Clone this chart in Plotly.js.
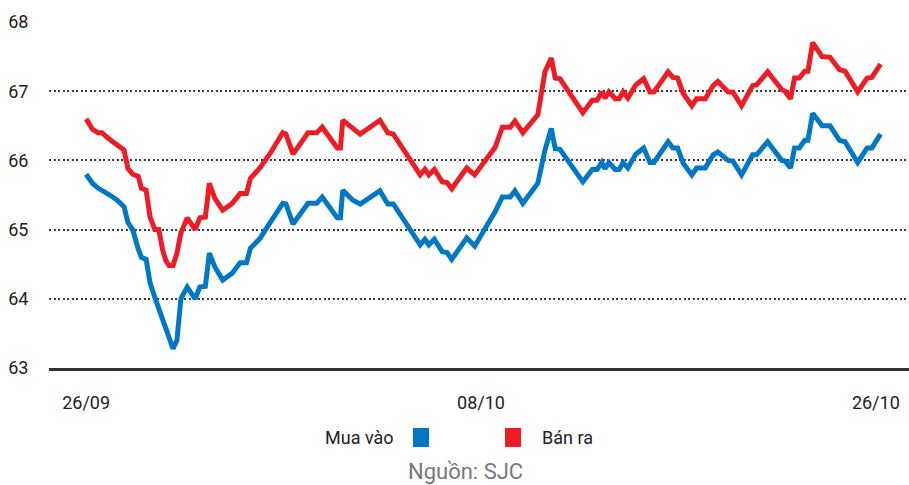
<!DOCTYPE html>
<html>
<head>
<meta charset="utf-8">
<script src="https://cdn.plot.ly/plotly-3.0.1.min.js"></script>
<style>
  html, body { margin: 0; padding: 0; background: #fff; }
  #chart { width: 909px; height: 485px; }
</style>
</head>
<body>
<div id="chart"></div>
<script>
// Position of each reading along the time axis (26/09 = 0, 08/10 = 50, 26/10 = 100)
const xPos = [0, 0.8, 1.5, 2.0, 3.0, 3.9, 4.8, 5.3, 5.9, 6.6, 7.0, 7.6, 8.1, 8.7, 9.2, 9.7, 10.1, 10.5, 11.0, 11.5,
  12.0, 12.8, 13.8, 14.4, 15.1, 15.6, 16.3, 17.3, 18.5, 19.5, 20.3, 20.8, 22.0, 23.3, 24.9, 25.3, 26.2, 28.1, 29.2, 29.9,
  31.8, 32.2, 32.5, 33.7, 34.7, 37.2, 38.2, 38.9, 42.3, 42.9, 43.4, 44.1, 45.1, 45.7, 46.3, 48.2, 49.2, 51.8, 52.7, 53.7,
  54.3, 55.3, 57.2, 58.1, 58.9, 59.4, 60.0, 62.9, 64.1, 64.7, 65.3, 65.7, 66.2, 67.0, 67.5, 68.0, 68.6, 69.6, 70.6, 71.4,
  71.9, 73.7, 74.3, 74.9, 75.6, 76.7, 77.3, 78.4, 79.4, 80.0, 81.3, 81.9, 83.0, 84.4, 84.9, 86.3, 88.1, 88.5, 89.2, 89.7,
  90.3, 91.0, 91.4, 92.0, 93.2, 94.2, 95.4, 96.1, 97.7, 98.9, 99.5, 100.6];

// Giá mua vào (triệu đồng/lượng)
const muaVao = [65.80, 65.67, 65.60, 65.57, 65.50, 65.43, 65.33, 65.10, 65.00, 64.72, 64.60, 64.57, 64.23, 64.02, 63.86, 63.72, 63.62, 63.45, 63.28, 63.40,
  64.00, 64.17, 64.00, 64.17, 64.18, 64.66, 64.46, 64.27, 64.37, 64.52, 64.52, 64.73, 64.87, 65.10, 65.38, 65.37, 65.08, 65.38, 65.38, 65.47,
  65.17, 65.17, 65.57, 65.43, 65.37, 65.56, 65.37, 65.37, 64.78, 64.86, 64.78, 64.86, 64.68, 64.67, 64.57, 64.88, 64.76, 65.26, 65.47, 65.47,
  65.56, 65.38, 65.67, 66.15, 66.46, 66.17, 66.16, 65.69, 65.87, 65.87, 65.97, 65.88, 65.97, 65.87, 65.87, 65.97, 65.89, 66.09, 66.18, 65.97,
  65.97, 66.27, 66.18, 66.18, 65.96, 65.79, 65.89, 65.89, 66.08, 66.12, 66.00, 65.99, 65.79, 66.08, 66.08, 66.27, 66.00, 65.99, 65.89, 66.18,
  66.18, 66.29, 66.29, 66.68, 66.50, 66.50, 66.29, 66.27, 65.97, 66.18, 66.18, 66.38];

// Giá bán ra (triệu đồng/lượng)
const banRa = [66.60, 66.45, 66.40, 66.40, 66.30, 66.22, 66.15, 65.88, 65.80, 65.77, 65.60, 65.57, 65.18, 65.00, 65.00, 64.70, 64.55, 64.48, 64.48, 64.66,
  64.95, 65.17, 65.00, 65.17, 65.18, 65.67, 65.45, 65.28, 65.38, 65.52, 65.52, 65.74, 65.89, 66.10, 66.40, 66.38, 66.09, 66.40, 66.40, 66.48,
  66.18, 66.18, 66.58, 66.47, 66.38, 66.58, 66.40, 66.38, 65.79, 65.87, 65.79, 65.87, 65.69, 65.68, 65.59, 65.89, 65.79, 66.19, 66.48, 66.48,
  66.57, 66.40, 66.66, 67.28, 67.48, 67.19, 67.18, 66.69, 66.87, 66.87, 66.99, 66.90, 66.99, 66.89, 66.89, 66.99, 66.90, 67.09, 67.18, 66.99,
  66.99, 67.28, 67.20, 67.19, 66.97, 66.79, 66.89, 66.89, 67.08, 67.14, 66.99, 66.99, 66.79, 67.08, 67.09, 67.28, 67.02, 67.00, 66.89, 67.19,
  67.19, 67.29, 67.29, 67.70, 67.50, 67.49, 67.31, 67.29, 66.99, 67.19, 67.20, 67.39];

const xTickVals = [0, 50, 100];
const xTickText = ['26/09', '08/10', '26/10'];
const yTickVals = [63, 64, 65, 66, 67, 68];

const seriesNames = ['Mua vào', 'Bán ra'];
const sourceText = 'Nguồn: SJC';

const BLUE = '#0078C6';
const RED = '#EE1D25';
const FONT = 'Roboto, "Liberation Sans", sans-serif';

const traces = [
  {
    x: xPos, y: muaVao, name: seriesNames[0], type: 'scatter', mode: 'lines',
    line: { color: BLUE, width: 5, shape: 'linear' }, showlegend: false, hoverinfo: 'skip'
  },
  {
    x: xPos, y: banRa, name: seriesNames[1], type: 'scatter', mode: 'lines',
    line: { color: RED, width: 5, shape: 'linear' }, showlegend: false, hoverinfo: 'skip'
  }
];

// paper coordinates helper for layout decorations (plot area: x 49..909 px, y 22..368 px)
const px = v => (v - 49) / 860;
const py = v => (368 - v) / 346;

const layout = {
  width: 909, height: 485,
  margin: { l: 49, r: 0, t: 22, b: 117, pad: 0 },
  paper_bgcolor: '#ffffff', plot_bgcolor: '#ffffff',
  font: { family: FONT, color: '#222222', size: 18 },
  showlegend: false,
  xaxis: {
    range: [-4.7, 104.2],
    tickmode: 'array', tickvals: xTickVals, ticktext: xTickText,
    showgrid: false, zeroline: false,
    showline: true, linecolor: '#333333', linewidth: 2.5,
    ticks: 'outside', ticklen: 17, tickcolor: 'rgba(0,0,0,0)',
    tickfont: { family: FONT, size: 18, color: '#222222' },
    fixedrange: true
  },
  yaxis: {
    range: [63, 68],
    tickmode: 'array', tickvals: yTickVals,
    showgrid: true, gridcolor: '#3a3a3a', gridwidth: 2, griddash: '2px,2.5px',
    zeroline: false, showline: false,
    ticks: 'outside', ticklen: 16, tickcolor: 'rgba(0,0,0,0)',
    tickfont: { family: FONT, size: 18, color: '#222222' },
    fixedrange: true
  },
  annotations: [
    { xref: 'paper', yref: 'paper', x: px(396), y: py(437), xanchor: 'right', yanchor: 'middle',
      text: seriesNames[0], showarrow: false, font: { family: FONT, size: 18, color: '#222222' } },
    { xref: 'paper', yref: 'paper', x: px(540), y: py(437), xanchor: 'left', yanchor: 'middle',
      text: seriesNames[1], showarrow: false, font: { family: FONT, size: 18, color: '#222222' } },
    { xref: 'paper', yref: 'paper', x: px(465), y: py(471), xanchor: 'center', yanchor: 'middle',
      text: sourceText, showarrow: false, font: { family: FONT, size: 22, color: '#777777' } }
  ],
  shapes: [
    { type: 'rect', xref: 'paper', yref: 'paper', x0: px(413), x1: px(429), y0: py(447), y1: py(428),
      fillcolor: BLUE, line: { width: 0 } },
    { type: 'rect', xref: 'paper', yref: 'paper', x0: px(505), x1: px(521), y0: py(447), y1: py(428),
      fillcolor: RED, line: { width: 0 } }
  ]
};

Plotly.newPlot('chart', traces, layout, { displayModeBar: false, staticPlot: true });
</script>
</body>
</html>
